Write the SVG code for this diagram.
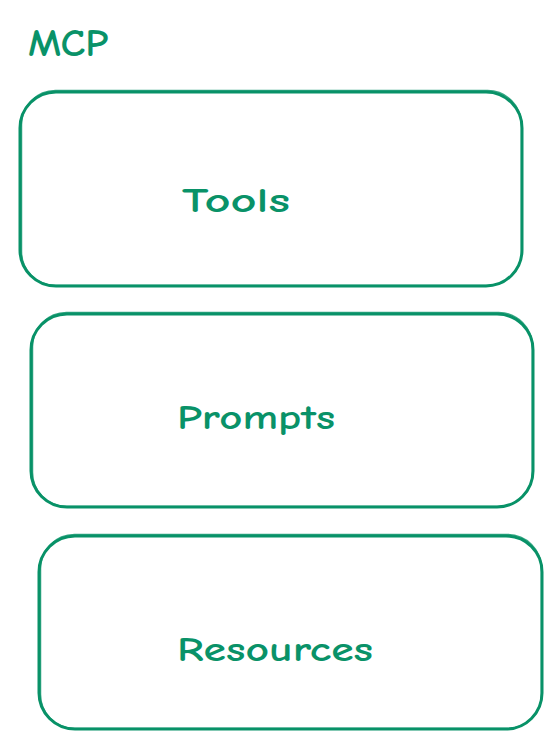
<svg xmlns="http://www.w3.org/2000/svg" width="560" height="750" viewBox="0 0 560 750">
<style>
.box{fill:none;stroke:#099268;stroke-width:3;stroke-linecap:round;stroke-linejoin:round}
.box2{fill:none;stroke:#099268;stroke-width:1.5;opacity:0.8}
.lbl{font-family:"Comic Neue","Liberation Sans",sans-serif;font-size:34px;fill:#099268;font-weight:bold}
</style>
<rect width="560" height="750" fill="#ffffff"/>
<g id="title"><text class="lbl" x="28" y="56" style="font-size:38px" textLength="80" lengthAdjust="spacingAndGlyphs">MCP</text></g>
<g id="tools">
<rect class="box" x="20" y="92" width="502" height="194" rx="36"/>
<rect class="box2" x="21.5" y="90.5" width="500" height="195" rx="34"/>
<text class="lbl" x="182" y="212" style="font-size:35px" textLength="108" lengthAdjust="spacingAndGlyphs">Tools</text>
</g>
<g id="prompts">
<rect class="box" x="31" y="314" width="502" height="193" rx="36"/>
<rect class="box2" x="32.5" y="312.5" width="500" height="194" rx="34"/>
<text class="lbl" x="177" y="429" style="font-size:35px" textLength="158" lengthAdjust="spacingAndGlyphs">Prompts</text>
</g>
<g id="resources">
<rect class="box" x="39" y="536" width="503" height="193" rx="36"/>
<rect class="box2" x="40.5" y="534.5" width="501" height="194" rx="34"/>
<text class="lbl" x="177" y="661" style="font-size:35px" textLength="196" lengthAdjust="spacingAndGlyphs">Resources</text>
</g>
<g id="connectors"></g>
</svg>
